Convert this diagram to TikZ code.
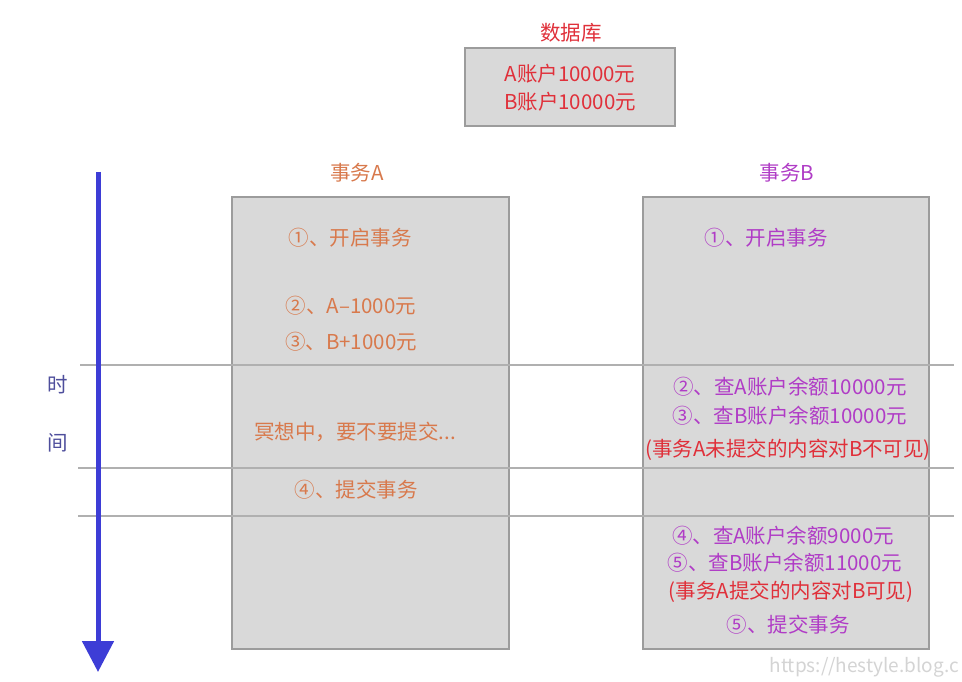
\documentclass[tikz,border=0pt]{standalone}
\usepackage{fontspec}
\setmainfont{Noto Sans CJK SC}
\usetikzlibrary{arrows.meta}
\definecolor{boxfill}{HTML}{D9D9D9}
\definecolor{boxline}{HTML}{9C9C9C}
\definecolor{sepline}{HTML}{B0B0B0}
\definecolor{orangeT}{HTML}{D8794C}
\definecolor{purpleT}{HTML}{B03CC6}
\definecolor{redT}{HTML}{E0303A}
\definecolor{arrowBlue}{HTML}{3D3DD6}
\definecolor{timeT}{HTML}{4E4E9C}
\definecolor{wmark}{HTML}{D4D4D4}
\begin{document}
\begin{tikzpicture}[x=1pt,y=-1pt,
  txt/.style={inner sep=0pt, font=\fontsize{20.5}{24}\selectfont},
  graybox/.style={draw=boxline, line width=1.4pt, fill=boxfill},
  sep/.style={draw=sepline, line width=1.8pt},
  timearrow/.style={draw=arrowBlue, line width=5pt, -{Triangle[width=31pt,length=31pt]}}]
\useasboundingbox (0,0) rectangle (962,682);
\fill[white] (0,0) rectangle (962,682);

% database
\node[txt, text=redT] (dbtitle) at (571,33) {数据库};
\draw[graybox] (465,48) rectangle (675,126);
\node[txt, text=redT] (dba) at (570,74) {A账户10000元};
\node[txt, text=redT] (dbb) at (570,102) {B账户10000元};

% transaction boxes
\node[txt, text=orangeT] (titleA) at (357,173) {事务A};
\node[txt, text=purpleT] (titleB) at (787,173) {事务B};
\draw[graybox] (232,197) rectangle (509,649);
\draw[graybox] (643,197) rectangle (929,649);

% separators
\coordinate (s1a) at (80,365);  \coordinate (s1b) at (954,365);
\coordinate (s2a) at (78,468);  \coordinate (s2b) at (954,468);
\coordinate (s3a) at (78,516);  \coordinate (s3b) at (954,516);
\draw[sep] (s1a) -- (s1b);
\draw[sep] (s2a) -- (s2b);
\draw[sep] (s3a) -- (s3b);

% time arrow
\coordinate (tstart) at (98,172);
\coordinate (tend) at (98,672);
\draw[timearrow] (tstart) -- (tend);
\node[txt, text=timeT] (shi) at (58,385) {时};
\node[txt, text=timeT] (jian) at (58,443) {间};

% transaction A
\node[txt, text=orangeT] (a1) at (350,238) {①、开启事务};
\node[txt, text=orangeT] (a2) at (351,306) {②、A–1000元};
\node[txt, text=orangeT] (a3) at (351,342) {③、B+1000元};
\node[txt, text=orangeT] (a4) at (355,432) {冥想中，要不要提交...};
\node[txt, text=orangeT] (a5) at (356,490) {④、提交事务};

% transaction B
\node[txt, text=purpleT] (b1) at (766,238) {①、开启事务};
\node[txt, text=purpleT] (b2) at (790,387) {②、查A账户余额10000元};
\node[txt, text=purpleT] (b3) at (790,416) {③、查B账户余额10000元};
\node[txt, text=redT] (b4) at (788,450) {(事务A未提交的内容对B不可见)};
\node[txt, text=purpleT] (b5) at (783,536) {④、查A账户余额9000元};
\node[txt, text=purpleT] (b6) at (785,563) {⑤、查B账户余额11000元};
\node[txt, text=redT] (b7) at (791,592) {(事务A提交的内容对B可见)};
\node[txt, text=purpleT] (b8) at (788,625) {⑤、提交事务};

% watermark
\node[inner sep=0pt, anchor=east, text=wmark, font=\fontsize{19}{23}\selectfont] (wm) at (959,667) {https://hestyle.blog.c};
\end{tikzpicture}
\end{document}
